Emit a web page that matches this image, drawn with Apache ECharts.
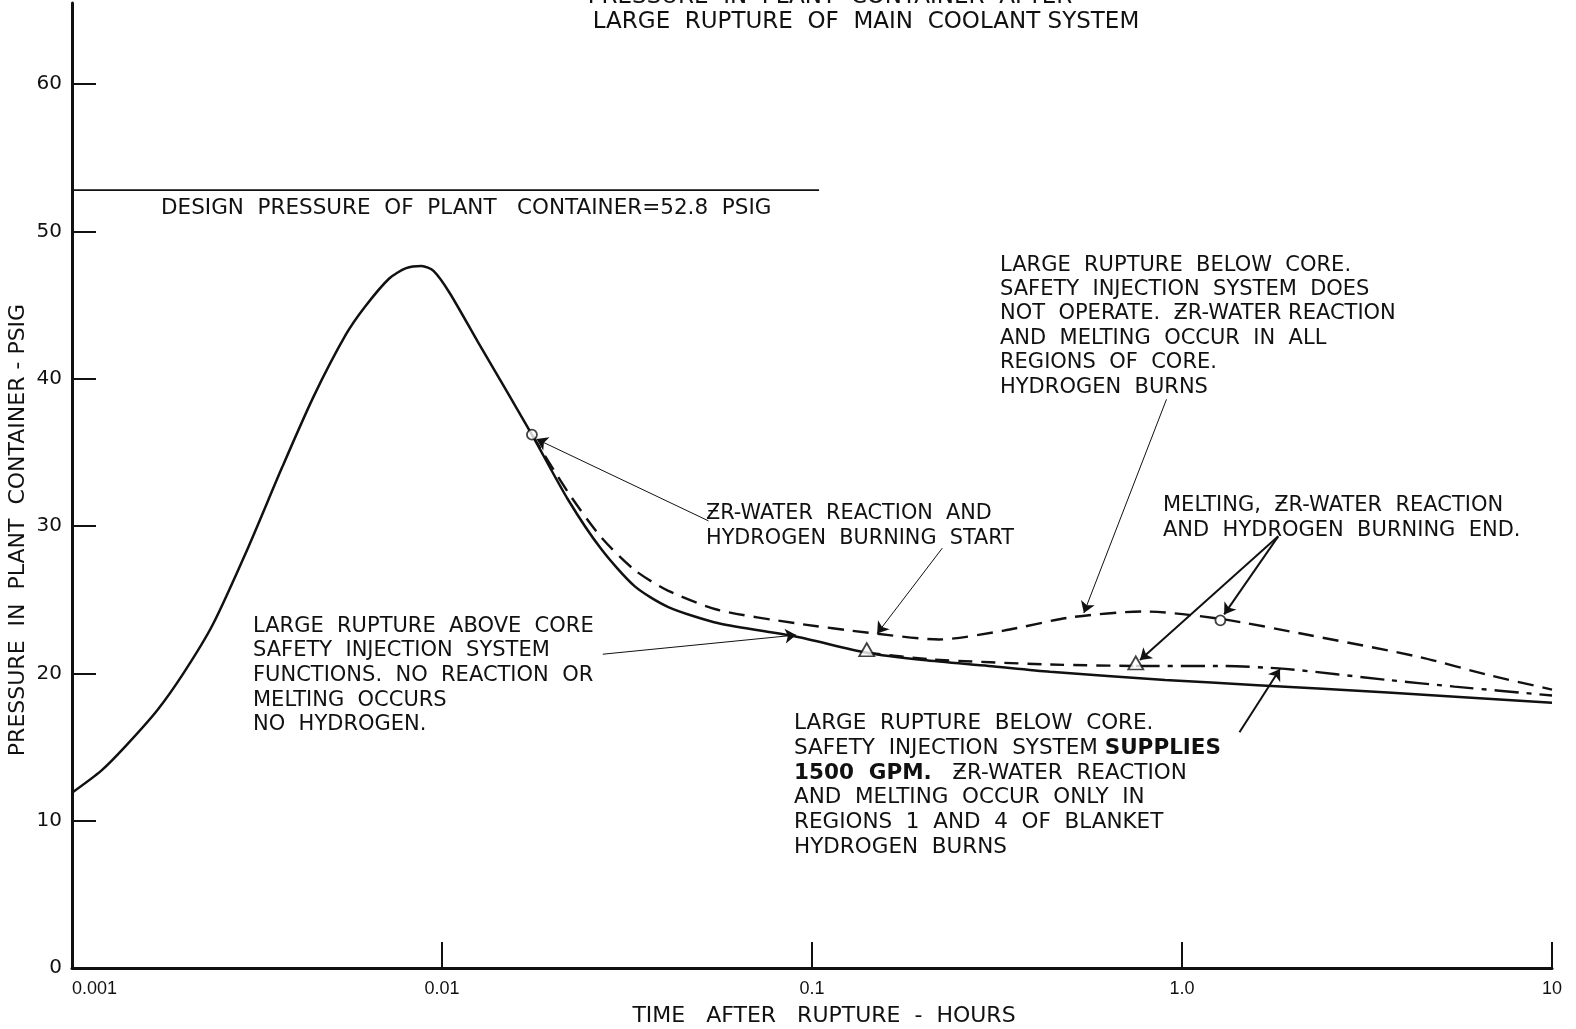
<!DOCTYPE html>
<html>
<head>
<meta charset="utf-8">
<title>Pressure in plant container after large rupture</title>
<script src="https://cdn.jsdelivr.net/npm/echarts@6.0.0/dist/echarts.min.js"></script>
<style>
  html, body { margin: 0; padding: 0; background: #fff; }
  #main { width: 1576px; height: 1029px; }
</style>
</head>
<body>
<div id="main"></div>
<script>
// axis ticks
var xTickLabels = ['0.001', '0.01', '0.1', '1.0', '10'];
var yTicks = [0, 10, 20, 30, 40, 50, 60];

// rupture above core, safety injection works (solid)
var solidX = [0.001, 0.0012, 0.0014, 0.0017, 0.002, 0.0024, 0.003, 0.0037, 0.0045, 0.0055, 0.0062, 0.0072,
  0.008, 0.0088, 0.0095, 0.0105, 0.0125, 0.015, 0.0175, 0.0219, 0.027, 0.0332, 0.0409, 0.0559, 0.0903,
  0.1406, 0.2, 0.3, 0.44, 0.9, 1.6, 3.6, 10];
var solidY = [11.9, 13.4, 15.1, 17.5, 20.0, 23.3, 28.6, 34.0, 38.8, 43.0, 44.9, 46.8,
  47.5, 47.65, 47.3, 45.8, 42.5, 39.1, 36.2, 31.8, 28.4, 25.9, 24.5, 23.4, 22.5,
  21.4, 20.9, 20.5, 20.1, 19.55, 19.2, 18.7, 18.0];

// rupture below core, no safety injection (dashed)
var noInjX = [0.0175, 0.0219, 0.027, 0.0332, 0.0409, 0.0559, 0.0903, 0.143, 0.22, 0.33, 0.5, 0.79, 1.27, 2.2, 4.4, 6.7, 10];
var noInjY = [36.2, 32.3, 29.2, 27.0, 25.6, 24.3, 23.4, 22.75, 22.3, 22.9, 23.8, 24.2, 23.7, 22.6, 21.1, 19.9, 18.9];

// rupture below core, injection 1500 gpm
var gpmDashX = [0.1406, 0.21, 0.44, 0.75];
var gpmDashY = [21.4, 20.95, 20.6, 20.5];
var gpmDotX = [0.75, 1.27, 1.9, 3.6, 5.45, 10];
var gpmDotY = [20.5, 20.5, 20.3, 19.55, 19.1, 18.5];

// design pressure
var designX = [0.001, 0.1045];
var designY = [52.8, 52.8];

// start / end markers
var circleX = [0.0175, 1.27];
var circleY = [36.2, 23.6];
var triX = [0.1406, 0.75];
var triY = [21.4, 20.5];

// annotation arrows (from text to curve)
var arrowFromX = [0.0525, 0.225, 0.0272, 0.908, 1.82, 1.82, 1.43];
var arrowFromY = [30.35, 28.5, 21.3, 38.6, 29.3, 29.3, 16.0];
var arrowToX = [0.018, 0.15, 0.0906, 0.543, 0.77, 1.3, 1.84];
var arrowToY = [35.9, 22.7, 22.6, 24.1, 20.9, 24.0, 20.3];
var arrowWidth = [1, 1, 1, 1, 2, 2, 2];

function pairs(xs, ys) {
  return xs.map(function (x, i) { return [x, ys[i]]; });
}

function lineSeries(xs, ys, width, dash) {
  return {
    type: 'line',
    data: pairs(xs, ys),
    showSymbol: false,
    smooth: 0.25,
    silent: true,
    lineStyle: { color: '#111', width: width, type: dash },
    z: 3
  };
}

var FONT = '"DejaVu Sans", "Liberation Sans", sans-serif';

function textBlock(x, y, lines, lh, size, rich) {
  var st = {
    text: lines.join('\n'),
    font: size + 'px ' + FONT,
    fill: '#111',
    lineHeight: lh,
    align: 'left',
    verticalAlign: 'top'
  };
  if (rich) st.rich = rich;
  return { type: 'text', x: x, y: y, silent: true, style: st };
}

var chart = echarts.init(document.getElementById('main'));

var arrowData = arrowFromX.map(function (x, i) {
  return [
    { coord: [x, arrowFromY[i]], lineStyle: { width: arrowWidth[i] } },
    { coord: [arrowToX[i], arrowToY[i]] }
  ];
});

var option = {
  backgroundColor: '#fff',
  animation: false,
  grid: { left: 72, right: 24, top: 3, bottom: 61 },
  xAxis: {
    type: 'log',
    logBase: 10,
    min: 0.001,
    max: 10,
    axisLine: { show: true, lineStyle: { color: '#111', width: 3 } },
    axisTick: { show: true, inside: true, length: 26, lineStyle: { color: '#111', width: 2 } },
    minorTick: { show: false },
    splitLine: { show: false },
    axisLabel: {
      color: '#111',
      fontSize: 18,
      fontFamily: '"Liberation Sans Narrow", "Liberation Sans", sans-serif',
      margin: 12,
      alignMinLabel: 'left',
      formatter: function (v) {
        var i = Math.round(Math.log10(v)) + 3;
        return xTickLabels[i] || '';
      }
    }
  },
  yAxis: {
    type: 'value',
    min: 0,
    max: 65.5,
    axisLine: { show: true, lineStyle: { color: '#111', width: 3 } },
    axisTick: { show: true, inside: true, length: 24, customValues: yTicks, lineStyle: { color: '#111', width: 2 } },
    splitLine: { show: false },
    axisLabel: {
      customValues: yTicks,
      color: '#111',
      fontSize: 20,
      fontFamily: '"DejaVu Sans", sans-serif',
      margin: 10
    }
  },
  series: [
    lineSeries(designX, designY, 1.6, 'solid'),
    lineSeries(solidX, solidY, 2.5, 'solid'),
    lineSeries(noInjX, noInjY, 2.4, [16, 9]),
    lineSeries(gpmDashX, gpmDashY, 2.4, [14, 9]),
    lineSeries(gpmDotX, gpmDotY, 2.4, [24, 8, 5, 8]),
    {
      type: 'scatter',
      data: pairs(circleX, circleY),
      symbol: 'circle',
      symbolSize: 10,
      silent: true,
      itemStyle: { color: '#fff', borderColor: '#111', borderWidth: 1.8 },
      z: 5
    },
    {
      type: 'scatter',
      data: pairs(triX, triY),
      symbol: 'triangle',
      symbolSize: [15, 13],
      symbolOffset: [0, -3],
      silent: true,
      itemStyle: { color: '#fff', borderColor: '#111', borderWidth: 1.8 },
      z: 5
    },
    {
      type: 'line',
      data: [],
      silent: true,
      markLine: {
        silent: true,
        animation: false,
        symbol: ['none', 'arrow'],
        symbolSize: 11,
        label: { show: false },
        lineStyle: { color: '#111', type: 'solid' },
        data: arrowData
      }
    }
  ],
  graphic: [
    // title (top line is cut off in the original)
    { type: 'text', x: 830, y: -3, silent: true,
      style: { text: 'PRESSURE  IN  PLANT  CONTAINER  AFTER', font: '23px ' + FONT, fill: '#111', align: 'center', verticalAlign: 'middle' } },
    { type: 'text', x: 866, y: 22, silent: true,
      style: { text: 'LARGE  RUPTURE  OF  MAIN  COOLANT SYSTEM', font: '23px ' + FONT, fill: '#111', align: 'center', verticalAlign: 'middle' } },
    // axis names
    { type: 'text', x: 18, y: 530, rotation: Math.PI / 2, silent: true,
      style: { text: 'PRESSURE  IN  PLANT  CONTAINER - PSIG', font: '22px ' + FONT, fill: '#111', align: 'center', verticalAlign: 'middle' } },
    { type: 'text', x: 824, y: 1016, silent: true,
      style: { text: 'TIME   AFTER   RUPTURE  -  HOURS', font: '22px ' + FONT, fill: '#111', align: 'center', verticalAlign: 'middle' } },
    // design pressure
    { type: 'text', x: 161, y: 208, silent: true,
      style: { text: 'DESIGN  PRESSURE  OF  PLANT   CONTAINER=52.8  PSIG', font: '21.5px ' + FONT, fill: '#111', align: 'left', verticalAlign: 'middle' } },
    textBlock(706, 501, ['\u01B5R-WATER  REACTION  AND', 'HYDROGEN  BURNING  START'], 25, 20.8),
    textBlock(1000, 253, [
      'LARGE  RUPTURE  BELOW  CORE.',
      'SAFETY  INJECTION  SYSTEM  DOES',
      'NOT  OPERATE.  \u01B5R-WATER REACTION',
      'AND  MELTING  OCCUR  IN  ALL',
      'REGIONS  OF  CORE.',
      'HYDROGEN  BURNS'
    ], 24.4, 21),
    textBlock(1163, 493, ['MELTING,  \u01B5R-WATER  REACTION', 'AND  HYDROGEN  BURNING  END.'], 25, 21),
    textBlock(253, 614, [
      'LARGE  RUPTURE  ABOVE  CORE',
      'SAFETY  INJECTION  SYSTEM',
      'FUNCTIONS.  NO  REACTION  OR',
      'MELTING  OCCURS',
      'NO  HYDROGEN.'
    ], 24.6, 21),
    textBlock(794, 711, [
      'LARGE  RUPTURE  BELOW  CORE.',
      'SAFETY  INJECTION  SYSTEM {b|SUPPLIES}',
      '{b|1500  GPM.}   \u01B5R-WATER  REACTION',
      'AND  MELTING  OCCUR  ONLY  IN',
      'REGIONS  1  AND  4  OF  BLANKET',
      'HYDROGEN  BURNS'
    ], 24.8, 21.5, { b: { font: 'bold 21.5px ' + FONT, fill: '#111' } })
  ]
};

chart.setOption(option);
</script>
</body>
</html>
